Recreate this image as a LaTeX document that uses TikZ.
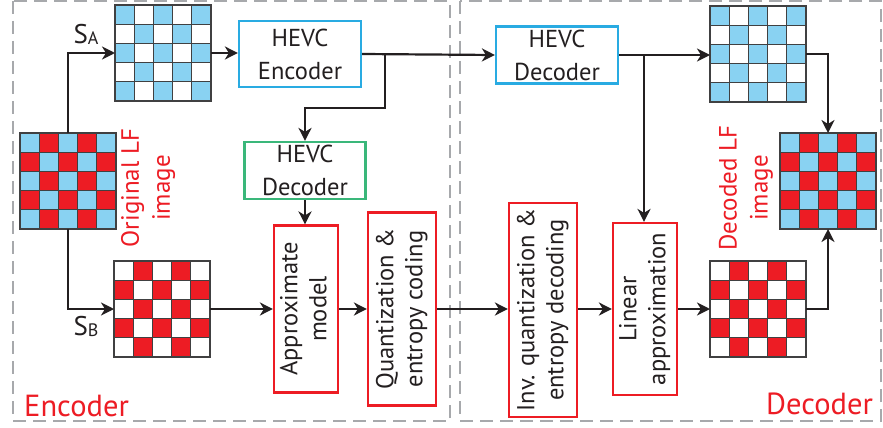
\documentclass[tikz,border=0pt]{standalone}
\usepackage{fontspec}
\setmainfont{PT Sans}
\usetikzlibrary{arrows.meta,calc}
\definecolor{lfred}{HTML}{ED1C24}
\definecolor{lfblue}{HTML}{89D2F2}
\definecolor{boxblue}{HTML}{29ABE2}
\definecolor{boxgreen}{HTML}{3AB77A}
\definecolor{dashgray}{HTML}{A7A9AC}
\definecolor{ink}{HTML}{231F20}
\definecolor{cellline}{HTML}{404041}
\tikzset{
  arr/.style={draw=ink, line width=2.2pt, -{Stealth[length=13pt,width=13pt,inset=4pt]}},
  cellgrid/.style={draw=cellline, line width=1.3pt},
  blk/.style={draw, line width=2.2pt, inner sep=0pt, align=center, text=ink, font=\fontsize{24.5}{33}\selectfont},
  vblk/.style={draw=lfred, line width=2.2pt, inner sep=0pt, text=ink, font=\fontsize{24.5}{29}\selectfont},
  region/.style={draw=dashgray, line width=2pt, dash pattern=on 13pt off 7pt},
  redlabel/.style={text=lfred, font=\fontsize{30.5}{34}\selectfont, inner sep=0pt},
  sidelabel/.style={text=lfred, font=\fontsize{25}{31}\selectfont, align=center, rotate=90, inner sep=0pt},
  slabel/.style={text=ink, font=\fontsize{27}{27}\selectfont, inner sep=0pt}
}
\newcommand{\cbgrid}[5]{%
  \foreach \i in {0,...,4}{\foreach \j in {0,...,4}{%
    \pgfmathtruncatemacro{\pp}{mod(\i+\j,2)}%
    \ifnum\pp=0 \def\cc{#4}\else\def\cc{#5}\fi
    \fill[\cc] ({#2+\i*19.2},{#3+\j*19.2}) rectangle ++(19.2,19.2);
  }}
  \foreach \k in {1,...,4}{%
    \draw[cellgrid] ({#2+\k*19.2},#3) -- ++(0,96);
    \draw[cellgrid] (#2,{#3+\k*19.2}) -- ++(96,0);
  }
  \node[draw=cellline, line width=1.3pt, inner sep=0pt, outer sep=0pt, minimum width=96pt, minimum height=96pt, anchor=north west] (#1) at (#2,#3) {};
}
\begin{document}
\begin{tikzpicture}[x=1pt,y=-1pt]
\useasboundingbox (0,0) rectangle (883,428);
\fill[white] (0,0) rectangle (883,428);
% regions
\draw[region] (13,1) rectangle (450,421);
\draw[region] (460,1) rectangle (881,421);
% grids
\cbgrid{gA}{115}{5}{lfblue}{white}
\cbgrid{gO}{20}{133}{lfblue}{lfred}
\cbgrid{gB}{114}{261}{white}{lfred}
\cbgrid{gDA}{710}{6}{lfblue}{white}
\cbgrid{gDO}{780}{133}{lfblue}{lfred}
\cbgrid{gDB}{710}{261}{white}{lfred}
% boxes
\node[blk, draw=boxblue, minimum width=122pt, minimum height=66pt] (enc) at (300,54) {HEVC\\Encoder};
\node[blk, draw=boxgreen, minimum width=121pt, minimum height=57pt] (decE) at (305,170.5) {HEVC\\Decoder};
\node[blk, draw=boxblue, minimum width=122pt, minimum height=57pt] (decD) at (557,55) {HEVC\\Decoder};
\node[vblk, minimum width=64pt, minimum height=167pt] (approx) at (306,309) {\rotatebox{90}{\begin{tabular}{@{}c@{}}Approximate\\model\end{tabular}}};
\node[vblk, minimum width=68pt, minimum height=193pt] (quant) at (402,309) {\rotatebox{90}{\begin{tabular}{@{}c@{}}Quantization \&\\entropy coding\end{tabular}}};
\node[vblk, minimum width=68pt, minimum height=214pt] (inv) at (543,310) {\rotatebox{90}{\begin{tabular}{@{}c@{}}Inv. quantization \&\\entropy decoding\end{tabular}}};
\node[vblk, minimum width=64pt, minimum height=172pt] (lin) at (645,309) {\rotatebox{90}{\begin{tabular}{@{}c@{}}Linear\\approximation\end{tabular}}};
% labels
\node[slabel] (sa) at (86,34) {S\raisebox{-1pt}{\fontsize{18}{18}\selectfont A}};
\node[slabel] (sb) at (86,326) {S\raisebox{-1pt}{\fontsize{18}{18}\selectfont B}};
\node[sidelabel] (olf) at (148,188) {Original LF\\image};
\node[sidelabel] (dlf) at (746,188) {Decoded LF\\image};
\node[redlabel, anchor=base west] (enclab) at (24,416) {Encoder};
\node[redlabel, anchor=base west] (declab) at (766,414) {Decoder};
% connectors
\draw[arr] (gO.north) |- (gA.west);
\draw[arr] (gO.south) |- (gB.west);
\draw[arr] (gA.east) -- (gA.east -| enc.west);
\draw[arr] (enc.east) -- (decD.west);
\coordinate (b1) at (385,54);
\draw[arr] (b1) -- ++(0,54) -| (decE.north);
\draw[arr] (decE.south) -- (decE.south |- approx.north);
\draw[arr] (gB.east) -- (approx.west);
\draw[arr] (approx.east) -- (quant.west);
\draw[arr] (quant.east) -- (quant.east -| inv.west);
\draw[arr] (inv.east |- lin.west) -- (lin.west);
\draw[arr] (lin.east) -- (gDB.west);
\draw[arr] (decD.east) -- (decD.east -| gDA.west);
\coordinate (b2) at (644,55);
\draw[arr] (b2) -- (b2 |- lin.north);
\draw[arr] (gDA.east) -| (gDO.north);
\draw[arr] (gDB.east) -| (gDO.south);
\end{tikzpicture}
\end{document}
